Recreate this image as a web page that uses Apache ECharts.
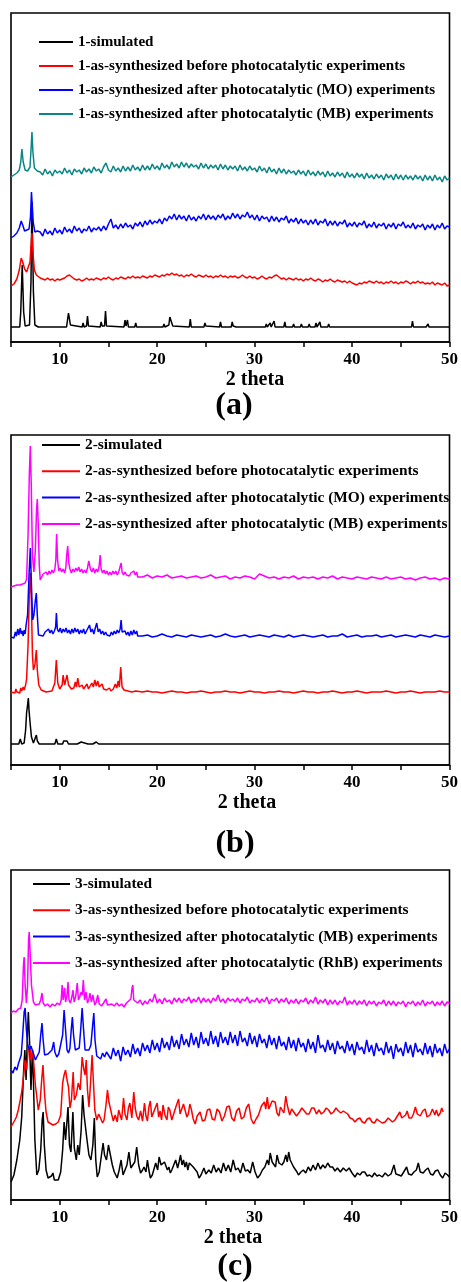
<!DOCTYPE html>
<html>
<head>
<meta charset="utf-8">
<script src="https://cdn.jsdelivr.net/npm/echarts@6/dist/echarts.min.js"></script>
<style>
  html, body { margin: 0; padding: 0; background: #ffffff; }
  #chart { width: 461px; height: 1282px; }
</style>
</head>
<body>
<div id="chart"></div>
<script>
// PXRD patterns of compounds 1-3, stacked with vertical offsets (arbitrary intensity units).
// Each pattern: a list of [2theta, I] pairs for the peak region, followed by
// intensities recorded on a regular 2theta step for the rest of the scan.

const xMin = 5, xMax = 50, xTickStep = 5;
const tickLabels = [10, 20, 30, 40, 50];
const axisTitle = '2 theta';
const panelTags = ['(a)', '(b)', '(c)'];

// ---------- panel (a) ----------
const namesA = [
  '1-simulated',
  '1-as-synthesized before photocatalytic experiments',
  '1-as-synthesized after photocatalytic (MO) experiments',
  '1-as-synthesized after photocatalytic (MB) experiments'
];
const colorsA = ['#000000', '#ff0000', '#0000ff', '#0b8686'];

const a1Sim = [[5,15],[5.9,15],[6.0,30],[6.15,77],[6.3,30],[6.45,16],[6.9,17],[7.05,60],[7.15,140],[7.3,50],[7.45,17],[7.8,15],
  [9.0,15],[9.05,17],[9.1,15],[10.7,15],[10.9,29],[11.1,17],[11.3,15],[12.3,15],[12.4,19],[12.5,15],[12.75,16],[12.85,26],[12.95,16],
  [14.15,15],[14.25,20],[14.35,16],[14.6,16],[14.7,31],[14.8,16],[16.6,15],[16.7,22],[16.8,16],[16.95,22],[17.05,15],[17.7,15],[17.8,19],[17.9,15],
  [19.3,15],[19.4,17],[19.5,15],[20.6,15],[20.7,18],[20.8,15],[21.2,17],[21.3,25],[21.45,23],[21.6,16],[21.8,15],[23.3,15],[23.4,23],[23.5,15],
  [24.8,15],[24.9,19],[25.0,16],[25.1,15],[26.4,15],[26.5,20],[26.6,15],[27.6,15],[27.7,20],[27.8,16],[28.0,18],[28.1,15],[29.0,15],[29.1,16],[29.2,15],
  [30.1,15],[30.2,17],[30.3,15],[31.1,15],[31.2,18],[31.3,15],[31.5,15],[31.6,19],[31.7,15],[31.9,15],[32.0,21],[32.1,15],[32.5,15],[32.6,17],[32.7,15],
  [33.0,15],[33.1,20],[33.2,15],[33.9,15],[34.0,18],[34.1,15],[34.7,15],[34.8,18],[34.9,15],[35.5,15],[35.6,18],[35.7,15],[36.2,15],[36.3,19],[36.4,15],
  [36.6,15],[36.7,20],[36.8,15],[37.5,15],[37.6,18],[37.7,15],[38.4,15],[38.5,17],[38.6,15],[39.2,15],[39.3,17],[39.4,15],[39.6,15],[39.7,16],[39.8,15],
  [42.5,15],[42.6,16],[42.7,15],[44.0,15],[44.1,16],[44.2,15],[46.1,15],[46.2,21],[46.3,15],[47.3,15],[47.45,17],[47.6,15],[47.7,15],[47.8,18],[47.9,15],[50,15]];

const a2Head = [[5.0,56],[5.3,58],[5.6,63],[5.85,72],[6.05,84],[6.2,80],[6.4,73],[6.6,70],[6.8,72],[6.95,80],[7.08,100],[7.15,109],[7.25,90],[7.4,72],[7.6,67],[7.8,65]];
const a2Tail = [64,63,62,64,62,63,61,63, 62,63,64,66,67,65,63,62, 63,61,62,64,62,63,62,64, 63,62,64,63,65,63,62,64,
  63,65,64,63,65,64,66,64, 65,64,66,65,64,66,65,67, 66,65,67,66,68,67,69,67, 68,66,67,65,67,66,68,66,
  65,67,66,65,67,65,66,64, 66,65,67,65,66,64,66,65, 66,64,65,67,65,64,66,64, 65,63,64,66,64,63,65,64,
  66,67,65,63,64,62,64,63, 62,64,62,63,61,63,62,64, 62,61,63,62,60,62,61,63, 61,60,62,61,60,61,59,61,
  59,58,57,59,58,60,59,61, 60,59,61,59,60,58,60,59, 61,59,60,58,60,59,61,60, 58,60,59,61,59,60,58,59,
  58,60,57,59,58,57,59,56, 57];

const a3Head = [[5.0,104],[5.3,106],[5.6,109],[5.85,114],[6.05,121],[6.2,117],[6.4,111],[6.6,112],[6.85,113],[7.0,125],[7.1,150],[7.18,152],[7.28,120],[7.45,110],[7.7,111]];
const a3Tail = [110,106,113,108,111,107,114,109, 112,108,115,110,113,109,116,111, 114,109,113,111,116,110,114,112,
  115,111,116,112,118,123,114,117, 113,118,114,119,115,117,113,119, 116,120,115,121,117,122,118,121,
  119,123,118,124,121,126,123,128, 122,127,123,126,121,127,122,125, 121,126,123,128,122,127,123,126,
  122,127,124,128,122,126,123,129, 124,128,123,127,125,130,124,127, 122,127,121,126,123,125,120,126,
  121,125,120,124,122,126,119,123, 120,124,118,123,119,122,117,122, 118,123,117,121,119,123,116,121,
  117,121,116,120,118,122,115,119, 116,120,115,119,117,121,114,118, 115,120,114,118,116,119,113,118,
  115,119,113,118,116,120,114,117, 114,119,113,117,115,118,112,117, 114,118,112,117,114,119,113,116, 115];

const a4Head = [[5.0,165],[5.3,167],[5.6,169],[5.85,172],[6.0,180],[6.12,193],[6.25,180],[6.45,172],[6.7,171],[6.95,175],[7.07,195],[7.15,210],[7.25,190],[7.4,174],[7.7,171]];
const a4Tail = [170,167,173,168,171,166,172,169, 171,168,174,169,172,167,173,170, 172,168,174,170,173,169,175,171,
  173,169,175,179,172,170,176,171, 174,170,176,171,175,171,177,172, 175,171,177,172,176,172,178,173,
  176,172,179,174,177,173,180,175, 178,174,180,175,179,174,178,175, 177,173,179,174,178,173,177,174,
  177,172,178,173,177,172,176,173, 176,171,177,172,175,171,176,172, 174,170,176,171,174,169,175,170,
  173,168,174,169,173,168,172,169, 171,167,172,168,171,166,172,167, 170,166,171,167,170,165,171,166,
  169,165,170,166,169,164,170,165, 168,164,169,165,168,163,169,164, 167,163,168,164,167,162,168,164,
  167,162,168,163,167,162,167,163, 166,162,167,163,166,161,167,162, 166,161,167,162,165,160,166,162, 164];
const tailStartA = 8.0, tailStepA = 0.25;

// ---------- panel (b) ----------
const namesB = [
  '2-simulated',
  '2-as-synthesized before photocatalytic experiments',
  '2-as-synthesized after photocatalytic (MO) experiments',
  '2-as-synthesized after photocatalytic (MB) experiments'
];
const colorsB = ['#000000', '#ff0000', '#0000ff', '#ff00ff'];

const b1Sim = [[5,21],[5.8,21],[5.95,26],[6.1,21],[6.35,22],[6.5,35],[6.6,52],[6.7,60],[6.78,67],[6.85,55],[6.95,43],[7.1,28],[7.3,22],[7.5,24],[7.6,30],[7.7,24],[7.9,21],
  [9.5,21],[9.65,26],[9.8,21],[10.3,21],[10.4,24],[10.5,22],[10.75,24],[10.9,21],[11.8,21],[11.9,23],[12.0,21],[12.2,23],[12.3,21],[12.9,21],[13.0,23],[13.1,21],
  [13.4,21],[13.5,23],[13.6,21],[13.75,23],[13.85,21],[14.0,21],[14.1,23],[14.2,21],[15.2,21],[15.3,22],[15.4,21],[15.7,21],[15.8,23],[15.9,21],[16.2,21],[16.3,23],[16.4,21],
  [17.8,21],[17.9,23],[18.0,21],[19.5,21],[19.6,22],[19.7,21],[21.9,21],[22.0,22],[22.1,21],[28.8,21],[28.9,22],[29.0,21],[50,21]];

const b2Head = [[5.0,73],[5.2,74],[5.4,72],[5.5,76],[5.6,73],[5.8,75],[5.9,72],[6.0,77],[6.1,74],[6.25,78],[6.35,75],[6.5,80],[6.6,86],[6.75,120],[6.88,170],[7.0,192],[7.1,160],
  [7.2,110],[7.3,95],[7.45,100],[7.6,115],[7.7,95],[7.85,80],[8.1,75],[8.6,73],[9.2,74],[9.5,82],[9.65,105],[9.8,82],[10.0,76],[10.25,80],[10.35,90],[10.5,80],[10.65,82],
  [10.75,90],[10.9,80],[11.2,76],[11.45,77],[11.6,83],[11.72,78],[11.85,87],[12.0,78],[12.15,76],[12.3,80],[12.45,76],[12.65,77],[12.8,81],[12.95,76],[13.15,78],[13.3,82],
  [13.45,78],[13.6,85],[13.75,79],[13.9,84],[14.05,78],[14.2,80],[14.35,81],[14.5,76],[14.8,75],[15.1,77],[15.25,74],[15.5,76],[15.7,81],[15.85,77],[16.0,84],[16.12,78],
  [16.26,98],[16.4,78],[16.6,75],[17.0,74],[17.2,75],[17.4,73],[17.8,74],[17.9,76],[18.0,73]];
const b2Tail = [73,74,73,73,72,73,74,73,73,72, 73,73,74,73,72,73,73,74,73,73, 72,73,74,73,73,72,73,73,74,73,
  73,72,73,74,73,73,72,73,73,74, 73,72,73,73,74,73,72,73,73,73, 74,73,72,73,73,74,73,72,73,73, 73,74,73,73];

const b3Head = [[5.0,128],[5.15,130],[5.3,127],[5.45,133],[5.55,129],[5.7,136],[5.8,130],[5.95,137],[6.05,131],[6.15,134],[6.25,129],[6.35,135],[6.45,131],[6.55,140],
  [6.7,150],[6.85,190],[6.98,217],[7.1,180],[7.22,145],[7.35,150],[7.5,165],[7.6,172],[7.7,150],[7.82,130],[8.0,128],[8.3,129],[8.5,133],[8.7,131],[8.85,136],[9.0,132],
  [9.15,135],[9.3,131],[9.45,134],[9.58,138],[9.66,152],[9.75,136],[9.9,133],[10.05,137],[10.2,132],[10.35,136],[10.5,133],[10.65,137],[10.8,132],[10.95,135],[11.1,131],
  [11.25,136],[11.4,132],[11.55,137],[11.7,133],[11.85,136],[12.0,131],[12.15,135],[12.3,132],[12.45,136],[12.6,131],[12.75,134],[12.9,132],[13.06,140],[13.2,133],
  [13.35,136],[13.5,131],[13.65,137],[13.8,142],[13.95,133],[14.1,136],[14.25,131],[14.4,134],[14.55,130],[14.7,133],[14.85,130],[15.0,132],[15.15,129],[15.3,133],
  [15.45,130],[15.6,134],[15.75,131],[15.9,135],[16.05,132],[16.2,136],[16.3,145],[16.4,133],[16.55,131],[16.7,134],[16.85,130],[17.0,133],[17.15,129],[17.3,134],
  [17.45,130],[17.6,135],[17.75,131],[17.9,134],[18.0,129]];
const b3Tail = [129,130,128,129,131,129,128,130,129,128, 130,129,128,129,130,128,129,131,129,128, 129,130,128,129,130,129,128,130,129,128,
  130,128,129,130,129,128,129,130,128,129, 129,131,128,129,130,128,129,129,130,128, 129,130,128,129,130,129,128,130,129,128, 130,129,128,129];

const b4Head = [[5.0,178],[5.3,179],[5.6,180],[5.9,180],[6.2,181],[6.45,182],[6.6,186],[6.75,230],[6.88,290],[6.98,319],[7.08,280],[7.2,210],[7.35,193],[7.5,215],
  [7.62,255],[7.7,266],[7.8,240],[7.9,200],[8.0,185],[8.15,186],[8.3,191],[8.45,189],[8.6,193],[8.75,190],[8.9,194],[9.05,191],[9.2,195],[9.35,192],[9.5,196],[9.6,205],
  [9.68,231],[9.78,205],[9.9,194],[10.05,197],[10.2,193],[10.35,196],[10.5,192],[10.62,197],[10.72,210],[10.82,219],[10.92,203],[11.05,196],[11.2,192],[11.35,196],
  [11.5,193],[11.65,197],[11.8,194],[11.95,198],[12.1,193],[12.25,196],[12.4,192],[12.55,195],[12.7,192],[12.85,197],[12.98,204],[13.06,206],[13.15,196],[13.3,193],
  [13.45,197],[13.6,192],[13.75,196],[13.9,193],[14.05,199],[14.15,210],[14.25,196],[14.4,192],[14.55,195],[14.7,191],[14.85,194],[15.0,190],[15.15,193],[15.3,190],
  [15.45,194],[15.6,191],[15.75,194],[15.9,190],[16.05,193],[16.2,191],[16.3,202],[16.4,193],[16.55,190],[16.7,193],[16.85,190],[17.0,192],[17.15,189],[17.3,192],
  [17.45,190],[17.6,194],[17.75,190],[17.9,193],[18.0,188]];
const b4Tail = [188,190,187,189,188,190,187,188,189,187, 188,189,187,188,190,187,188,189,186,188, 187,189,188,186,191,189,187,188,186,188,
  187,189,186,188,187,188,186,188,187,189, 186,188,187,186,188,187,186,188,187,186, 188,186,187,188,186,187,185,187,188,186, 187,185,187,186];
const tailStartB = 18.5, tailStepB = 0.5;

// ---------- panel (c) ----------
const namesC = [
  '3-simulated',
  '3-as-synthesized before photocatalytic experiments',
  '3-as-synthesized after photocatalytic (MB) experiments',
  '3-as-synthesized after photocatalytic (RhB) experiments'
];
const colorsC = ['#000000', '#ff0000', '#0000ff', '#ff00ff'];

const c1Sim = [[5.0,18],[5.3,25],[5.6,40],[5.9,60],[6.1,83],[6.3,130],[6.42,150],[6.55,120],[6.68,165],[6.78,188],[6.9,160],[7.05,110],[7.2,150],[7.3,120],[7.45,60],
  [7.65,25],[7.85,30],[8.05,50],[8.2,80],[8.3,88],[8.42,55],[8.6,30],[8.8,22],[9.0,20],[9.15,24],[9.3,27],[9.45,20],[9.65,19],[9.85,20],[10.1,28],[10.3,50],[10.45,78],
  [10.6,60],[10.85,93],[11.0,55],[11.15,48],[11.35,88],[11.5,52],[11.7,40],[11.85,55],[12.0,45],[12.2,70],[12.35,105],[12.5,85],[12.65,83],[12.8,60],[13.0,45],[13.2,40],
  [13.4,55],[13.55,82],[13.7,40],[13.85,23],[14.05,28],[14.25,30],[14.45,57],[14.6,45],[14.8,40],[15.0,55],[15.2,57],[15.4,35],[15.6,28],[15.9,22],[16.1,30],[16.3,40],
  [16.5,25],[16.7,23],[16.9,35],[17.1,48],[17.3,32],[17.5,30],[17.7,38],[17.9,53],[18.1,35],[18.3,27],[18.5,30],[18.65,33],[18.85,28],[19.0,40],[19.15,30],[19.3,22],
  [19.5,25],[19.65,23],[19.85,37],[20.05,30],[20.2,43],[20.4,35],[20.6,33],[20.75,38],[20.9,37],[21.05,30],[21.2,33],[21.35,27],[21.5,30],[21.7,35],[21.9,40],[22.1,32],
  [22.25,38],[22.4,45],[22.55,35],[22.7,40],[22.85,33],[23.0,38],[23.15,30],[23.3,37],[23.5,35],[23.7,33],[23.9,33],[24.1,28],[24.3,22],[24.5,25],[24.8,32],[25.0,26],
  [25.3,30],[25.55,27],[25.8,35],[26.05,28],[26.3,32],[26.55,27],[26.8,37],[27.05,29],[27.3,35],[27.55,28],[27.8,40],[28.05,30],[28.3,32],[28.55,27],[28.8,37],[29.05,29],
  [29.3,30],[29.55,27],[29.8,38],[30.05,28],[30.3,22],[30.55,25],[30.8,30],[31.05,33],[31.3,40],[31.45,35],[31.6,47],[31.8,38],[32.0,40],[32.15,33],[32.3,45],[32.5,37],
  [32.8,35],[33.0,38],[33.2,45],[33.35,38],[33.5,48],[33.65,40],[33.8,40],[34.0,33],[34.2,35],[34.35,28],[34.5,25],[34.75,28],[35.0,30],[35.25,27],[35.5,33],[35.75,29],
  [36.0,35],[36.25,30],[36.5,37],[36.75,31],[37.0,35],[37.25,32],[37.5,37],[37.75,33],[38.0,33],[38.25,29],[38.5,32],[38.8,28],[39.1,32],[39.4,29],[39.7,32],[40.0,27],
  [40.3,23],[40.55,27],[40.8,25],[41.05,28],[41.3,28],[41.55,24],[41.8,25],[42.05,23],[42.3,27],[42.55,24],[42.8,25],[43.1,23],[43.4,27],[43.7,24],[44.0,26],[44.3,35],
  [44.5,26],[44.8,25],[45.05,24],[45.3,28],[45.45,26],[45.6,33],[45.8,26],[46.1,25],[46.35,28],[46.6,30],[46.8,37],[47.0,28],[47.3,27],[47.55,30],[47.8,32],[48.05,26],
  [48.3,25],[48.55,29],[48.8,30],[49.05,25],[49.3,22],[49.55,27],[49.8,25],[50.0,23]];

const c2Exp = [[5.0,73],[5.2,75],[5.4,80],[5.55,83],[5.75,90],[5.95,100],[6.1,108],[6.3,125],[6.45,140],[6.6,130],[6.75,148],[6.9,155],[7.05,140],[7.2,150],[7.35,135],
  [7.5,115],[7.6,107],[7.8,90],[8.0,100],[8.15,120],[8.28,135],[8.45,105],[8.6,88],[8.8,78],[9.0,76],[9.3,75],[9.6,76],[9.85,78],[10.1,85],[10.3,117],[10.45,125],
  [10.6,130],[10.75,120],[10.9,113],[11.05,92],[11.2,100],[11.38,128],[11.5,100],[11.7,105],[11.9,117],[12.1,110],[12.3,143],[12.45,132],[12.6,125],[12.72,140],
  [12.85,110],[13.0,93],[13.15,115],[13.32,145],[13.45,120],[13.6,90],[13.8,80],[14.0,86],[14.2,84],[14.4,77],[14.55,80],[14.75,95],[14.9,110],[15.05,98],[15.2,97],
  [15.35,85],[15.5,79],[15.7,85],[15.9,78],[16.05,90],[16.2,92],[16.35,80],[16.55,102],[16.7,86],[16.9,80],[17.05,92],[17.2,97],[17.4,82],[17.6,108],[17.75,92],
  [17.9,84],[18.1,80],[18.3,89],[18.5,79],[18.7,97],[18.85,84],[19.0,79],[19.15,93],[19.3,99],[19.45,83],[19.6,81],[19.8,92],[20.0,97],[20.15,83],[20.3,89],[20.45,80],
  [20.6,95],[20.8,85],[21.0,80],[21.15,93],[21.3,90],[21.5,80],[21.7,79],[21.95,94],[22.2,101],[22.35,86],[22.5,84],[22.7,96],[22.9,98],[23.05,83],[23.2,86],[23.35,96],
  [23.5,91],[23.7,81],[23.9,76],[24.1,84],[24.4,88],[24.65,79],[24.9,80],[25.15,90],[25.4,91],[25.65,81],[25.9,80],[26.15,91],[26.4,88],[26.65,79],[26.9,84],[27.15,93],
  [27.4,94],[27.65,82],[27.9,79],[28.15,89],[28.4,92],[28.65,81],[28.9,83],[29.15,92],[29.4,96],[29.65,81],[29.9,76],[30.15,81],[30.4,85],[30.7,94],[31.0,98],[31.15,91],
  [31.3,103],[31.45,91],[31.6,89],[31.8,99],[32.1,98],[32.3,87],[32.5,84],[32.65,93],[32.8,95],[33.0,87],[33.2,104],[33.35,95],[33.6,85],[33.8,91],[34.0,93],[34.3,84],
  [34.6,88],[34.85,92],[35.1,89],[35.35,86],[35.6,86],[35.85,92],[36.1,92],[36.35,86],[36.6,90],[36.85,86],[37.1,88],[37.35,92],[37.6,90],[37.85,86],[38.1,88],
  [38.35,92],[38.6,89],[38.85,87],[39.1,89],[39.3,91],[39.55,86],[39.8,82],[40.05,81],[40.3,78],[40.55,81],[40.8,82],[41.05,78],[41.3,77],[41.55,81],[41.8,82],
  [42.05,78],[42.3,77],[42.55,81],[42.8,79],[43.1,77],[43.4,78],[43.7,82],[43.9,81],[44.15,78],[44.4,80],[44.65,84],[44.9,88],[45.1,82],[45.3,81],[45.5,85],[45.65,89],
  [45.85,82],[46.1,82],[46.3,86],[46.5,93],[46.7,86],[47.0,84],[47.25,89],[47.5,91],[47.7,83],[48.0,85],[48.25,91],[48.5,85],[48.65,90],[48.85,84],[49.05,87],
  [49.2,92],[49.35,88]];

const c3Head = [[5.0,130],[5.2,127],[5.4,133],[5.6,130],[5.75,136],[5.9,134],[6.05,145],[6.2,165],[6.35,188],[6.45,192],[6.58,170],[6.72,155],[6.9,150],[7.05,154],
  [7.2,153],[7.35,145],[7.5,140],[7.7,142],[7.9,148],[8.05,165],[8.18,177],[8.3,160],[8.45,145],[8.6,143],[8.8,146],[9.0,144],[9.2,150],[9.38,158],[9.5,148],[9.7,143],
  [9.9,146],[10.1,148],[10.3,165],[10.45,190],[10.6,170],[10.75,150],[10.9,147],[11.05,152],[11.18,170],[11.3,183],[11.42,165],[11.6,150],[11.8,148],[12.0,152],
  [12.15,170],[12.3,192],[12.45,170],[12.6,150],[12.8,148],[13.0,150],[13.2,155],[13.38,175],[13.5,187],[13.62,160],[13.8,144],[14.0,146],[14.2,141],[14.4,147],
  [14.6,143],[14.8,148]];
const c3Tail = [147,141,152,144,150,139,153,145, 150,143,156,146,152,144,157,149, 155,147,160,150,157,148,162,152,
  158,150,164,153,160,151,166,155, 161,153,167,155,163,152,168,156, 162,154,169,156,164,153,168,157,
  163,155,168,157,165,154,169,158, 162,154,167,156,164,153,166,157, 161,152,165,155,162,151,164,154,
  158,150,163,152,160,149,162,153, 157,148,161,151,158,147,165,152, 155,148,160,150,157,146,159,151,
  154,147,159,149,156,145,158,150, 153,146,160,148,155,144,157,149, 152,145,158,147,154,141,156,148,
  152,144,158,147,155,143,157,148, 151,145,157,146,154,143,156,147, 152,144,156,147, 151];
const tailStartC3 = 15.0, tailStepC3 = 0.25;

const c4Head = [[5.0,187],[5.25,189],[5.5,188],[5.75,191],[6.0,192],[6.15,200],[6.28,235],[6.35,243],[6.45,215],[6.58,197],[6.7,215],[6.8,260],[6.87,268],[6.95,250],
  [7.1,215],[7.3,198],[7.5,195],[7.7,193],[7.9,196],[8.05,200],[8.18,207],[8.3,197],[8.5,194],[8.75,196],[9.0,193],[9.25,196],[9.5,194],[9.75,197],[10.0,195],[10.15,200],
  [10.25,215],[10.35,200],[10.5,212],[10.6,198],[10.75,205],[10.85,218],[10.95,200],[11.1,197],[11.25,203],[11.36,210],[11.48,198],[11.65,204],[11.8,217],[11.92,200],
  [12.05,203],[12.2,208],[12.32,205],[12.42,220],[12.55,200],[12.7,208],[12.85,197],[13.0,201],[13.1,207],[13.25,198],[13.4,205],[13.6,195],[13.75,198],[13.9,205],
  [14.05,196],[14.3,194],[14.5,197],[14.75,201],[14.9,195],[15.1,193],[15.35,196],[15.6,194],[15.85,197],[16.1,194],[16.35,196],[16.6,193],[16.85,197],[17.05,196],
  [17.3,201],[17.42,212],[17.5,215],[17.6,200],[17.8,198]];
const c4Tail = [197,200,195,199,196,201,198,206, 197,201,196,202,198,200,196,202, 198,202,197,201,199,203,197,201,
  198,203,197,202,198,201,197,202, 199,205,198,201,197,202,199,201, 198,202,197,201,199,203,197,200,
  198,202,197,201,198,203,196,201, 199,202,197,201,198,202,196,200, 197,201,196,200,198,202,196,200,
  197,203,196,200,197,201,195,200, 196,200,195,199,197,203,195,199, 196,200,195,199,196,200,194,199,
  196,199,194,198,196,200,194,199, 195,199,194,198,196,199,193,198, 196,199,194,198,195,200,194,198,
  196,199,194,198,195,199,194,198, 197];
const tailStartC4 = 18.0, tailStepC4 = 0.25;

// ---------- assemble ----------
function joinScan(head, tailStart, tailStep, tail) {
  const out = head.slice();
  (tail || []).forEach((v, i) => out.push([+(tailStart + i * tailStep).toFixed(3), v]));
  return out;
}

const panels = [
  { names: namesA, colors: colorsA, top: 13, height: 329, legendTop: 34, legendLeft: 39, legendW: 34, legendGap: 8, legendFont: 15.1,
    tagX: 234, titleX: 255,
    data: [a1Sim, joinScan(a2Head, tailStartA, tailStepA, a2Tail), joinScan(a3Head, tailStartA, tailStepA, a3Tail), joinScan(a4Head, tailStartA, tailStepA, a4Tail)] },
  { names: namesB, colors: colorsB, top: 435, height: 330, legendTop: 437, legendLeft: 42, legendW: 38, legendGap: 10.3, legendFont: 15.4,
    tagX: 235, titleX: 247,
    data: [b1Sim, joinScan(b2Head, tailStartB, tailStepB, b2Tail), joinScan(b3Head, tailStartB, tailStepB, b3Tail), joinScan(b4Head, tailStartB, tailStepB, b4Tail)] },
  { names: namesC, colors: colorsC, top: 870, height: 330, legendTop: 876, legendLeft: 33, legendW: 37, legendGap: 10.3, legendFont: 15.4,
    tagX: 235, titleX: 233,
    data: [c1Sim, c2Exp, joinScan(c3Head, tailStartC3, tailStepC3, c3Tail), joinScan(c4Head, tailStartC4, tailStepC4, c4Tail)] }
];

const serif = '"Liberation Serif", "Times New Roman", serif';
const grids = [], xAxes = [], yAxes = [], series = [], legends = [], graphics = [];

panels.forEach((p, k) => {
  grids.push({ left: 11, width: 440, top: p.top, height: p.height, show: true,
    borderColor: '#000', borderWidth: 1.6, backgroundColor: 'transparent', containLabel: false });
  xAxes.push({
    type: 'value', gridIndex: k, min: xMin, max: xMax, interval: xTickStep,
    splitLine: { show: false },
    axisLine: { show: true, onZero: false, lineStyle: { color: '#000', width: 1.6 } },
    axisTick: { show: true, inside: false, length: 5, lineStyle: { color: '#000', width: 1.5 } },
    axisLabel: {
      show: true, margin: 9, color: '#000', fontFamily: serif, fontWeight: 'bold', fontSize: 17,
      formatter: v => (tickLabels.indexOf(v) >= 0 ? String(v) : '')
    }
  });
  yAxes.push({ type: 'value', gridIndex: k, min: 0, max: p.height, show: false,
    splitLine: { show: false } });
  p.data.forEach((d, j) => {
    series.push({
      type: 'line', name: p.names[j], xAxisIndex: k, yAxisIndex: k, data: d,
      symbol: 'none', showSymbol: false, smooth: false, animation: false,
      color: p.colors[j], lineStyle: { color: p.colors[j], width: 1.5 }
    });
  });
  legends.push({
    data: p.names, orient: 'vertical', left: p.legendLeft, top: p.legendTop,
    icon: 'rect', itemWidth: p.legendW, itemHeight: 2, itemGap: p.legendGap,
    selectedMode: false, padding: 0,
    textStyle: { color: '#000', fontFamily: serif, fontWeight: 'bold', fontSize: p.legendFont, lineHeight: 16 }
  });
  const bottom = p.top + p.height;
  graphics.push({ type: 'text', x: p.titleX, y: bottom + 38, style: {
    text: axisTitle, textAlign: 'center', textVerticalAlign: 'middle', fill: '#000',
    font: 'bold 20px ' + serif } });
  graphics.push({ type: 'text', x: p.tagX, y: bottom + (k === 0 ? 64 : (k === 1 ? 79 : 67)), style: {
    text: panelTags[k], textAlign: 'center', textVerticalAlign: 'middle', fill: '#000',
    font: 'bold 32px ' + serif } });
});

const chart = echarts.init(document.getElementById('chart'), null, { renderer: 'canvas' });
chart.setOption({
  backgroundColor: '#ffffff',
  animation: false,
  grid: grids,
  xAxis: xAxes,
  yAxis: yAxes,
  legend: legends,
  series: series,
  graphic: graphics
});
</script>
</body>
</html>
